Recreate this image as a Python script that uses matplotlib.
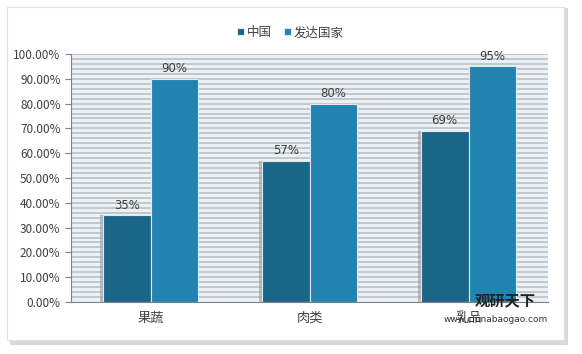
import matplotlib
matplotlib.use('Agg')
import numpy as np
import matplotlib.pyplot as plt
from matplotlib.patches import Rectangle

plt.rcParams['font.family'] = ['Noto Sans CJK SC', 'DejaVu Sans']

categories = ['果蔬', '肉类', '乳品']
china = [35, 57, 69]
developed = [90, 80, 95]
series_names = ['中国', '发达国家']
colors = ['#1b6589', '#2283b0']

fig = plt.figure(figsize=(5.82, 3.54), dpi=100)
fig.patch.set_facecolor('white')

# card with shadow
shadow = Rectangle((10 / 582, 1 - 345 / 354), 558 / 582, 337 / 354, transform=fig.transFigure,
                   facecolor='#d9d9d9', edgecolor='none', zorder=-3)
card = Rectangle((7 / 582, 1 - 340 / 354), 557 / 582, 333 / 354, transform=fig.transFigure,
                 facecolor='white', edgecolor='#e0e0e0', linewidth=0.8, zorder=-2)
fig.patches.extend([shadow, card])

ax = fig.add_axes([71 / 582, 1 - 302 / 354, 477 / 582, 248 / 354])
ax.set_facecolor('#eaf2f8')

# striped background
for y in np.arange(2, 101, 2):
    ax.axhline(y, color='#c3c7cb', linewidth=1.4, zorder=0)

x = np.arange(len(categories))
w = 0.3
for i, vals in enumerate([china, developed]):
    pos = x - w / 2 + i * w
    if i == 0:
        # small shadow at the left of the first bar
        ax.bar(pos - 0.02, vals, width=w, color='#9a9a9a', alpha=0.6, zorder=1, linewidth=0)
    ax.bar(pos, vals, width=w, color=colors[i], edgecolor='#dfe8ee', linewidth=0.8,
           zorder=2, label=series_names[i])
    for px, v in zip(pos, vals):
        ax.text(px, v + 1.4, f'{v}%', ha='center', va='bottom', fontsize=8.5,
                color='#404040', family='DejaVu Sans', zorder=3)

ax.set_xlim(-0.5, 2.5)
ax.set_ylim(0, 100)
ax.set_yticks(np.arange(0, 101, 10))
ax.set_yticklabels([f'{v:.2f}%' for v in np.arange(0, 101, 10)], fontsize=8.5, color='#404040')
ax.set_xticks(x)
ax.set_xticklabels(categories, fontsize=9.5, color='#404040')
ax.tick_params(axis='x', length=0, pad=7)
ax.tick_params(axis='y', length=4, color='#808080', width=0.8)
for s in ['top', 'right']:
    ax.spines[s].set_visible(False)
ax.spines['left'].set_color('#808080')
ax.spines['bottom'].set_color('#808080')

leg = ax.legend(loc='lower center', bbox_to_anchor=(0.46, 1.04), ncol=2, frameon=False,
                fontsize=9, handlelength=0.55, handleheight=0.55, handletextpad=0.2,
                columnspacing=1.0, borderaxespad=0)
for t in leg.get_texts():
    t.set_color('#404040')

# watermark
fig.text(505 / 582, 1 - 300 / 354, '观研天下', fontsize=11, fontweight='bold', color='#222222',
         ha='center', va='center')
fig.text(496 / 582, 1 - 320 / 354, 'www.chinabaogao.com', fontsize=6.5, color='#333333',
         ha='center', va='center', family='DejaVu Sans')

plt.savefig('out.png', dpi=100)
